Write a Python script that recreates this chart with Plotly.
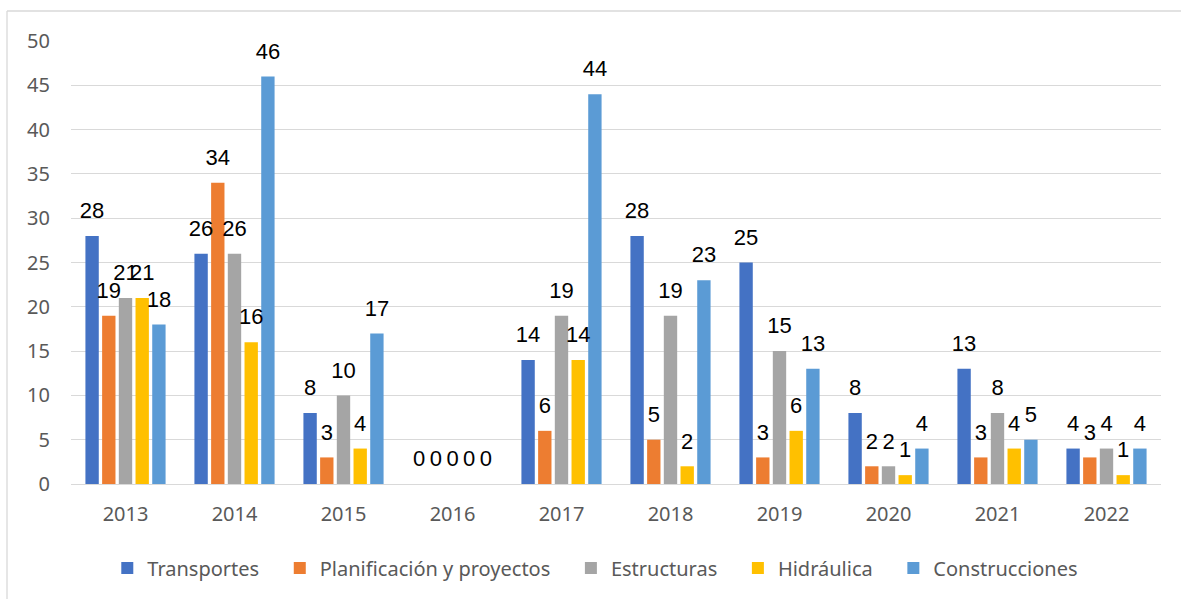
import plotly.graph_objects as go

# Years on the category axis
years = ["2013", "2014", "2015", "2016", "2017", "2018", "2019", "2020", "2021", "2022"]

# Count per year for each area
transportes = [28, 26, 8, 0, 14, 28, 25, 8, 13, 4]
planificacion = [19, 34, 3, 0, 6, 5, 3, 2, 3, 3]
estructuras = [21, 26, 10, 0, 19, 19, 15, 2, 8, 4]
hidraulica = [21, 16, 4, 0, 14, 2, 6, 1, 4, 1]
construcciones = [18, 46, 17, 0, 44, 23, 13, 4, 5, 4]

series_names = ["Transportes", "Planificación y proyectos", "Estructuras", "Hidráulica", "Construcciones"]
series_values = [transportes, planificacion, estructuras, hidraulica, construcciones]
series_colors = ["#4472C4", "#ED7D31", "#A5A5A5", "#FFC000", "#5B9BD5"]

y_ticks = [0, 5, 10, 15, 20, 25, 30, 35, 40, 45, 50]

W, H = 1181, 599
ML, MR, MT, MB = 71, 20, 41, 115
PW, PH = W - ML - MR, H - MT - MB

# extra spacing after each legend entry except the last
NBSP = "\u00a0" * 3

fig = go.Figure()

for i, (name, vals, col) in enumerate(zip(series_names, series_values, series_colors)):
    label = name + (NBSP if i < len(series_names) - 1 else "")
    fig.add_trace(go.Bar(
        x=years, y=vals, name=label, offsetgroup=name,
        marker=dict(color=col, line=dict(width=0)),
        hovertemplate=name + ": %{y}<extra>%{x}</extra>",
    ))

# value labels sit above each bar, aligned with the bar groups
for name, vals in zip(series_names, series_values):
    fig.add_trace(go.Scatter(
        x=years, y=vals, offsetgroup=name, mode="markers+text",
        text=[str(v) for v in vals], textposition="top center",
        textfont=dict(family="Liberation Sans Narrow, Arial Narrow, Liberation Sans, sans-serif",
                      size=22, color="#000000"),
        marker=dict(size=18, opacity=0),
        showlegend=False, hoverinfo="skip", cliponaxis=False,
    ))


def px_x(p):
    return (p - ML) / PW


def px_y(p):
    return (H - MB - p) / PH


# light frame around the chart area
frame = "#D9D9D9"
shapes = [
    dict(type="line", xref="paper", yref="paper", x0=px_x(7), x1=px_x(7), y0=px_y(11), y1=px_y(H + 2),
         line=dict(color=frame, width=1.3)),
    dict(type="line", xref="paper", yref="paper", x0=px_x(7), x1=px_x(W + 2), y0=px_y(11), y1=px_y(11),
         line=dict(color=frame, width=1.3)),
]

fig.update_layout(
    width=W, height=H,
    margin=dict(l=ML, r=MR, t=MT, b=MB, pad=0),
    paper_bgcolor="white", plot_bgcolor="white",
    barmode="group", bargap=0.234, bargroupgap=0.2,
    scattermode="group", scattergap=0.234,
    font=dict(family="Noto Sans, sans-serif", size=20, color="#595959"),
    shapes=shapes,
    xaxis=dict(
        type="category", showgrid=False, showline=True, linecolor="#D9D9D9", linewidth=1.3,
        ticks="", ticklabelstandoff=12, tickfont=dict(size=20, color="#595959"),
        zeroline=False,
    ),
    yaxis=dict(
        range=[0, 50], tickvals=y_ticks, showgrid=True, gridcolor="#D9D9D9", gridwidth=1.3,
        zeroline=False, showline=False, ticks="", ticklabelstandoff=20,
        tickfont=dict(size=20, color="#595959"),
    ),
    legend=dict(
        orientation="h", x=0.481, xanchor="center", y=px_y(568), yanchor="middle",
        font=dict(size=20, color="#595959"), bgcolor="rgba(0,0,0,0)",
        traceorder="normal",
    ),
    showlegend=True,
)

fig.write_html("out.html")
